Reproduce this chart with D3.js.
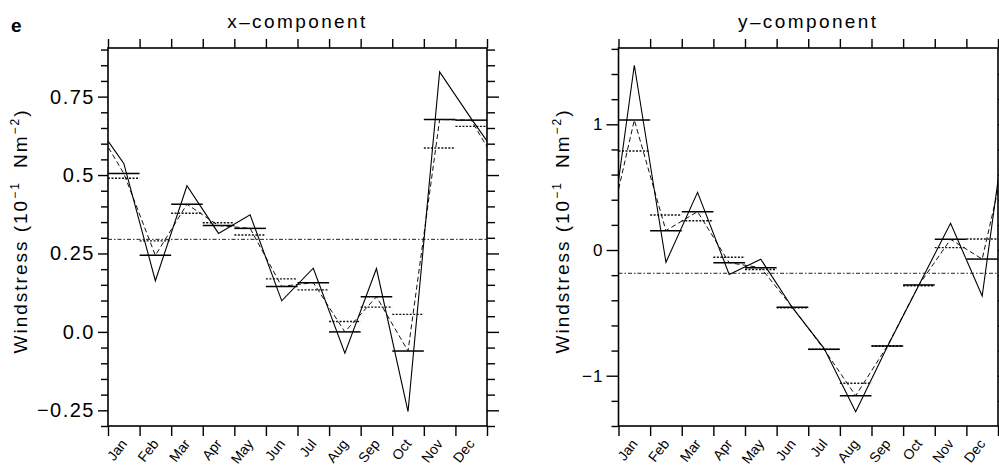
<!DOCTYPE html>
<html>
<head>
<meta charset="utf-8">
<script src="https://cdn.jsdelivr.net/npm/d3@7"></script>
<style>
  body { margin: 0; background: #fff; }
  svg { display: block; font-family: "Liberation Sans", Arial, sans-serif; }
</style>
</head>
<body>
<svg id="chart" width="999" height="469"></svg>
<script>
// ---- data ----
const months = ["Jan","Feb","Mar","Apr","May","Jun","Jul","Aug","Sep","Oct","Nov","Dec"];

// x-component (10^-1 N m^-2)
const xLine   = [0.537, 0.163, 0.466, 0.314, 0.373, 0.099, 0.203, -0.068, 0.202, -0.254, 0.829, 0.680];
const xMean   = [0.505, 0.244, 0.407, 0.339, 0.330, 0.145, 0.157, 0.000, 0.112, -0.061, 0.677, 0.675];
const xAlt    = [0.490, 0.290, 0.378, 0.348, 0.309, 0.169, 0.134, 0.033, 0.079, 0.056, 0.586, 0.655];
const xAnnual = 0.295;
const xTickValues = [0.75, 0.5, 0.25, 0, -0.25];
const xTickLabels = ["0.75", "0.5", "0.25", "0.0", "\u22120.25"];

// y-component
const yLine   = [1.470, -0.098, 0.459, -0.194, -0.074, -0.459, -0.782, -1.286, -0.769, -0.278, 0.212, -0.366];
const yMean   = [1.034, 0.154, 0.305, -0.101, -0.141, -0.456, -0.790, -1.159, -0.764, -0.278, 0.085, -0.072];
const yAlt    = [0.788, 0.278, 0.233, -0.058, -0.155, -0.460, -0.790, -1.060, -0.764, -0.284, 0.019, 0.088];
const yAnnual = -0.185;
const yTickValues = [1, 0, -1];
const yTickLabels = ["1", "0", "\u22121"];

const svg = d3.select("#chart");

function drawPanel(o) {
    const x = d3.scaleLinear().domain([0, 12]).range([o.x0, o.x1]);
    const y = d3.scaleLinear().domain(o.domain).range([o.y1, o.y0]);
    const g = svg.append("g");

    g.append("clipPath").attr("id", "clip-" + o.id)
        .append("rect")
        .attr("x", o.x0).attr("y", o.y0)
        .attr("width", o.x1 - o.x0).attr("height", o.y1 - o.y0);
    const plot = g.append("g").attr("clip-path", `url(#clip-${o.id})`);

    // annual mean, dash-dot across the whole year
    plot.append("line")
        .attr("x1", o.x0).attr("x2", o.x1)
        .attr("y1", y(o.annual)).attr("y2", y(o.annual))
        .attr("stroke", "#222").attr("stroke-width", 1)
        .attr("stroke-dasharray", "4,2,1.5,2");

    // monthly bars
    plot.selectAll("line.alt").data(o.alt).join("line")
        .attr("class", "alt")
        .attr("x1", (d, i) => x(i)).attr("x2", (d, i) => x(i + 1))
        .attr("y1", d => y(d)).attr("y2", d => y(d))
        .attr("stroke", "#111").attr("stroke-width", 1.4)
        .attr("stroke-dasharray", "2,1.5");

    plot.selectAll("line.mean").data(o.mean).join("line")
        .attr("class", "mean")
        .attr("x1", (d, i) => x(i)).attr("x2", (d, i) => x(i + 1))
        .attr("y1", d => y(d)).attr("y2", d => y(d))
        .attr("stroke", "#000").attr("stroke-width", 1.5);

    // cyclic curves: Dec before Jan and Jan after Dec, clipped to the frame
    const wrap = vals => [{ m: -0.5, v: vals[11] }]
        .concat(vals.map((v, i) => ({ m: i + 0.5, v })))
        .concat([{ m: 12.5, v: vals[0] }]);
    const line = d3.line().x(d => x(d.m)).y(d => y(d.v));

    plot.append("path").datum(wrap(o.mean)).attr("d", line)
        .attr("fill", "none").attr("stroke", "#111").attr("stroke-width", 1)
        .attr("stroke-dasharray", "5,3");
    plot.append("path").datum(wrap(o.line)).attr("d", line)
        .attr("fill", "none").attr("stroke", "#000").attr("stroke-width", 1.1);

    // axes
    const k0 = Math.ceil(o.domain[0] / o.minor - 1e-9), k1 = Math.floor(o.domain[1] / o.minor + 1e-9);
    const minor = d3.range(k0, k1 + 1).map(k => +(k * o.minor).toFixed(4))
        .filter(v => !o.ticks.includes(v));

    const style = sel => {
        sel.select(".domain").remove();
        sel.selectAll(".tick line").attr("stroke", "#000").attr("stroke-width", 1.4);
    };

    g.append("g").attr("transform", `translate(${o.x0},0)`)
        .call(d3.axisLeft(y).tickValues(minor).tickSize(7).tickFormat("")).call(style);
    const yl = g.append("g").attr("transform", `translate(${o.x0},0)`)
        .call(d3.axisLeft(y).tickValues(o.ticks).tickSize(o.majorLen).tickPadding(3)
            .tickFormat((d, i) => o.labels[i]))
        .call(style);
    yl.selectAll(".tick text")
        .attr("fill", "#000")
        .style("font-size", o.labelSize + "px")
        .style("letter-spacing", o.labelSpacing + "px");

    g.append("g").attr("transform", `translate(${o.x1},0)`)
        .call(d3.axisRight(y).tickValues(minor).tickSize(8).tickFormat("")).call(style);
    g.append("g").attr("transform", `translate(${o.x1},0)`)
        .call(d3.axisRight(y).tickValues(o.ticks).tickSize(12).tickFormat("")).call(style);

    g.append("g").attr("transform", `translate(0,${o.y0})`)
        .call(d3.axisTop(x).tickValues(d3.range(13)).tickSize(9).tickFormat("")).call(style);
    g.append("g").attr("transform", `translate(0,${o.y1})`)
        .call(d3.axisBottom(x).tickValues(d3.range(13)).tickSize(10).tickFormat("")).call(style);

    // frame
    g.append("rect")
        .attr("x", o.x0).attr("y", o.y0)
        .attr("width", o.x1 - o.x0).attr("height", o.y1 - o.y0)
        .attr("fill", "none").attr("stroke", "#000").attr("stroke-width", 1.6);

    // month labels
    g.selectAll("text.month").data(months).join("text")
        .attr("class", "month")
        .attr("transform", (d, i) => `translate(${x(i + 0.5) + 4},${o.y1 + 18}) rotate(-52)`)
        .attr("text-anchor", "end")
        .style("font-size", "14px")
        .text(d => d);

    // title
    g.append("text")
        .attr("x", (o.x0 + o.x1) / 2).attr("y", 28)
        .attr("text-anchor", "middle")
        .style("font-size", "19px").style("letter-spacing", "2.4px")
        .text(o.title);

    // y axis title
    const t = g.append("text")
        .attr("transform", `translate(${o.titleX},${o.titleY}) rotate(-90)`)
        .attr("text-anchor", "middle")
        .style("font-size", "19px").style("letter-spacing", "2px");
    t.append("tspan").text("Windstress (10");
    t.append("tspan").attr("dy", -8).style("font-size", "12px").text("\u22121");
    t.append("tspan").attr("dy", 8).text("\u2009 Nm");
    t.append("tspan").attr("dy", -8).style("font-size", "12px").text("\u22122");
    t.append("tspan").attr("dy", 8).text(")");
}

drawPanel({
    id: "xc", title: "x\u2013component",
    x0: 108, x1: 487, y0: 48, y1: 426,
    domain: [-0.3, 0.905], minor: 0.05, ticks: xTickValues, labels: xTickLabels,
    majorLen: 10, labelSize: 20, labelSpacing: 1.5,
    line: xLine, mean: xMean, alt: xAlt, annual: xAnnual,
    titleX: 27, titleY: 231
});

drawPanel({
    id: "yc", title: "y\u2013component",
    x0: 618.5, x1: 998, y0: 48, y1: 426,
    domain: [-1.4, 1.607], minor: 0.2, ticks: yTickValues, labels: yTickLabels,
    majorLen: 12, labelSize: 17, labelSpacing: 1,
    line: yLine, mean: yMean, alt: yAlt, annual: yAnnual,
    titleX: 569, titleY: 231
});

// panel letter
svg.append("text")
    .attr("x", 11).attr("y", 32)
    .style("font-size", "19px").style("font-weight", "bold")
    .text("e");
</script>
</body>
</html>
